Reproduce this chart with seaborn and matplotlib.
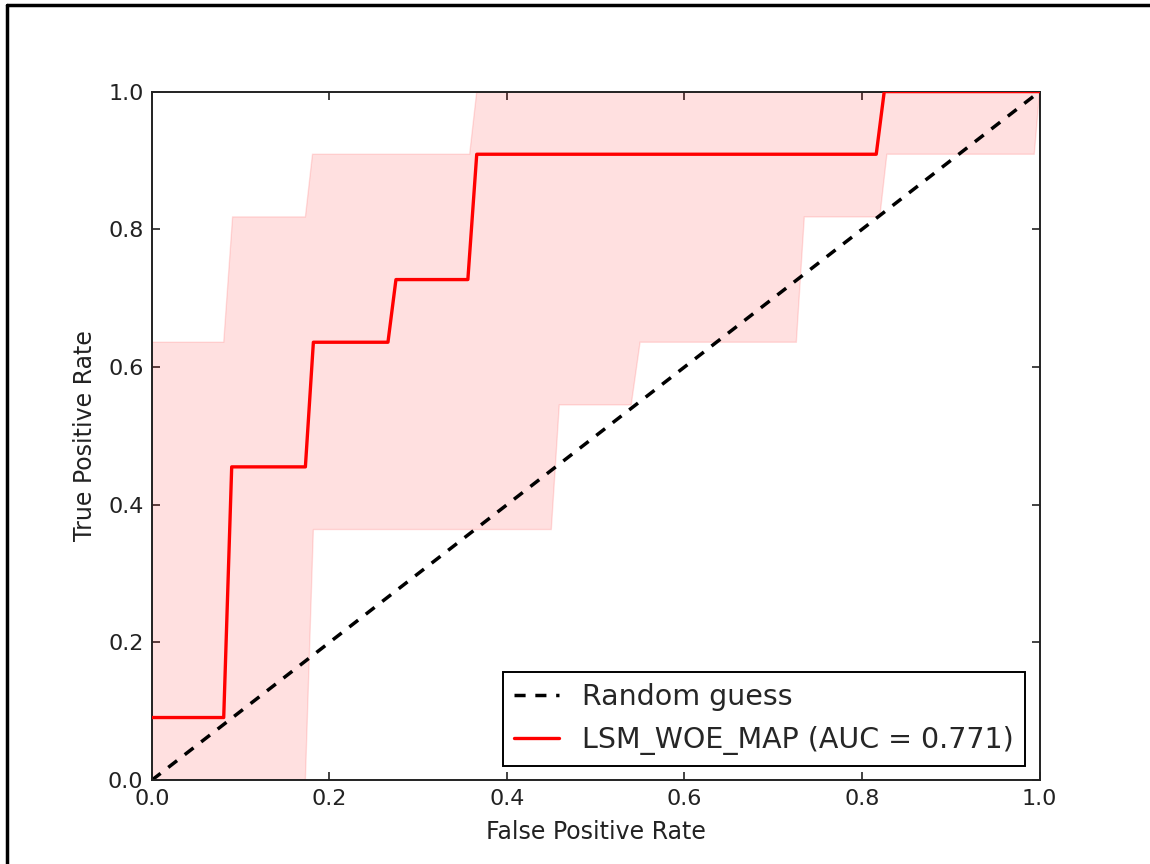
import matplotlib
matplotlib.use("Agg")
import matplotlib.pyplot as plt
from matplotlib.lines import Line2D
import seaborn as sns

# mean ROC curve (step vertices)
mean_fpr = [0.0, 0.081, 0.090, 0.173, 0.182, 0.266, 0.275, 0.356, 0.366, 0.816, 0.825, 1.0]
mean_tpr = [0.091, 0.091, 0.455, 0.455, 0.636, 0.636, 0.727, 0.727, 0.909, 0.909, 1.0, 1.0]

# upper edge of the +/- band
upper_fpr = [0.0, 0.081, 0.091, 0.173, 0.181, 0.358, 0.366, 1.0]
upper_tpr = [0.636, 0.636, 0.818, 0.818, 0.909, 0.909, 1.0, 1.0]

# lower edge of the band
lower_fpr = [0.0, 0.173, 0.182, 0.450, 0.459, 0.540, 0.550, 0.726, 0.735, 0.820, 0.828, 0.994, 1.0]
lower_tpr = [0.0, 0.0, 0.364, 0.364, 0.545, 0.545, 0.636, 0.636, 0.818, 0.818, 0.909, 0.909, 1.0]

diag_x = [0.0, 1.0]
diag_y = [0.0, 1.0]

auc_label = "LSM_WOE_MAP (AUC = 0.771)"

sns.set_style("ticks")
plt.rcParams["font.family"] = ["DejaVu Sans"]
plt.rcParams["lines.scale_dashes"] = False
plt.rcParams["xtick.direction"] = "in"
plt.rcParams["ytick.direction"] = "in"

fig = plt.figure(figsize=(11.5, 8.64), dpi=100)
ax = fig.add_axes([0.132, 0.097, 0.772, 0.797])

# shaded band: upper edge then lower edge reversed
poly_x = upper_fpr + lower_fpr[::-1]
poly_y = upper_tpr + lower_tpr[::-1]
ax.fill(poly_x, poly_y, color="red", alpha=0.12, lw=1, zorder=1)

sns.lineplot(x=diag_x, y=diag_y, estimator=None, sort=False, ax=ax,
             color="black", lw=2.5, linestyle=(0, (8, 7)), label="Random guess", zorder=2)
sns.lineplot(x=mean_fpr, y=mean_tpr, estimator=None, sort=False, ax=ax,
             color="red", lw=2.4, label=auc_label, zorder=3)

ax.set_xlim(0, 1)
ax.set_ylim(0, 1)
ax.set_xticks([0.0, 0.2, 0.4, 0.6, 0.8, 1.0])
ax.set_yticks([0.0, 0.2, 0.4, 0.6, 0.8, 1.0])
ax.tick_params(which="both", top=True, right=True, length=5.7, width=1.2,
               labelsize=16, pad=6, colors="#222222", labelcolor="#222222")
for s in ax.spines.values():
    s.set_linewidth(1.4)
    s.set_color("#222222")

ax.set_xlabel("False Positive Rate", fontsize=17, color="#222222", labelpad=8)
ax.set_ylabel("True Positive Rate", fontsize=17, color="#222222", labelpad=8)

leg = ax.legend(loc="lower right", fontsize=20.5, fancybox=False, framealpha=1,
                edgecolor="black", handlelength=1.6, borderaxespad=0.5)
leg.get_frame().set_linewidth(1.4)

# screenshot frame (left and top edges)
fig.add_artist(Line2D([0.0065, 0.0065], [0.0, 0.994], transform=fig.transFigure, color="black", lw=2.5))
fig.add_artist(Line2D([0.0065, 1.0], [0.994, 0.994], transform=fig.transFigure, color="black", lw=2.5))

fig.savefig("out.png", dpi=100)
